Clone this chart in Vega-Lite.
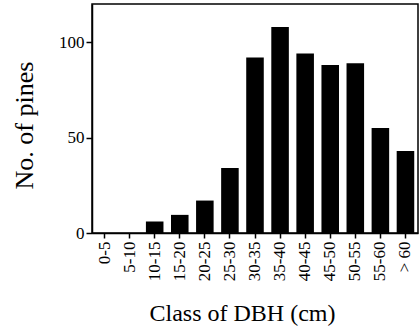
{
  "$schema": "https://vega.github.io/schema/vega-lite/v6.json",
  "width": 326,
  "height": 229,
  "autosize": "none",
  "padding": {"left": 92, "top": 4, "right": 2, "bottom": 96},
  "config": {
    "view": {"stroke": "black", "strokeWidth": 1.5},
    "font": "Liberation Serif",
    "axis": {
      "labelFont": "Liberation Serif",
      "titleFont": "Liberation Serif",
      "domainColor": "black",
      "domainWidth": 1.5,
      "tickColor": "black",
      "tickWidth": 1.5,
      "labelColor": "black",
      "titleColor": "black",
      "titleFontWeight": "normal",
      "grid": false
    }
  },
  "data": {
    "values": [
      {"class": "0-5", "pines": 0},
      {"class": "5-10", "pines": 0},
      {"class": "10-15", "pines": 6},
      {"class": "15-20", "pines": 9.5},
      {"class": "20-25", "pines": 17},
      {"class": "25-30", "pines": 34},
      {"class": "30-35", "pines": 92},
      {"class": "35-40", "pines": 108},
      {"class": "40-45", "pines": 94},
      {"class": "45-50", "pines": 88},
      {"class": "50-55", "pines": 89},
      {"class": "55-60", "pines": 55},
      {"class": "> 60", "pines": 43}
    ]
  },
  "mark": {"type": "bar", "color": "black"},
  "encoding": {
    "x": {
      "field": "class",
      "type": "nominal",
      "sort": null,
      "scale": {"paddingInner": 0.3, "paddingOuter": 0.15},
      "axis": {
        "title": "Class of DBH (cm)",
        "titleFontSize": 24,
        "titleX": 150,
        "titleY": 87,
        "titleAlign": "center",
        "titleBaseline": "alphabetic",
        "labelAngle": -90,
        "labelAlign": "right",
        "labelBaseline": "middle",
        "labelFontSize": 17,
        "labelPadding": 3,
        "tickSize": 5
      }
    },
    "y": {
      "field": "pines",
      "type": "quantitative",
      "scale": {"domain": [0, 120]},
      "axis": {
        "title": "No. of pines",
        "titleFontSize": 26,
        "titleX": -60,
        "titleY": 121,
        "titleAlign": "center",
        "titleBaseline": "alphabetic",
        "values": [0, 50, 100],
        "labelFontSize": 17,
        "labelPadding": 2,
        "tickSize": 6
      }
    }
  }
}
